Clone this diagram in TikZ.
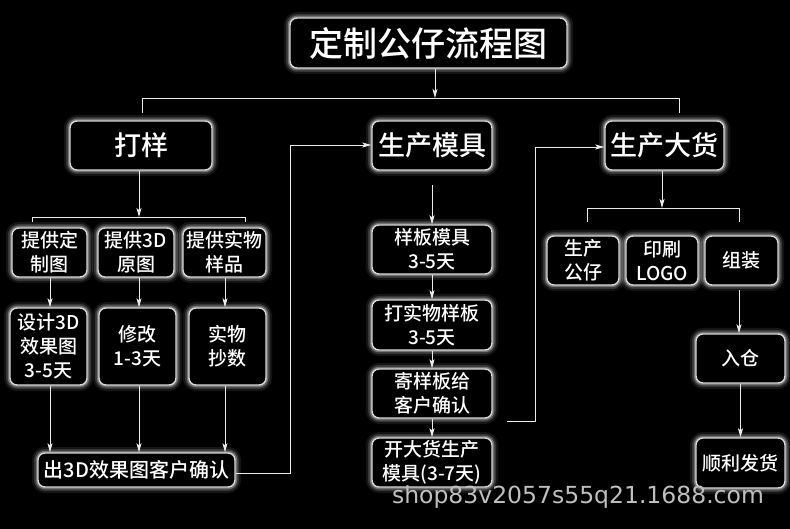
\documentclass[tikz,border=0pt]{standalone}
\usepackage{fontspec}
\setmainfont{Noto Sans CJK SC}[UprightFont={* Medium}]
\newfontfamily\wmfont{DejaVu Sans}
\usetikzlibrary{arrows.meta}
\tikzset{
  glowbox/.style={rounded corners=7pt, fill=black, draw=white!85!black, line width=1.4pt,
    text=white, align=center, inner sep=0pt,
    preaction={draw=white, draw opacity=0.08, line width=12pt},
    preaction={draw=white, draw opacity=0.15, line width=8pt},
    preaction={draw=white, draw opacity=0.3, line width=4.5pt}},
  smallbox/.style={glowbox, font=\fontsize{19}{24}\selectfont},
  headbox/.style={glowbox, font=\fontsize{27}{30}\selectfont},
  link/.style={draw=white!92!black, line width=0.9pt},
  arr/.style={link, -{Stealth[length=9pt,width=5pt,inset=2pt]}},
}
\begin{document}
\begin{tikzpicture}[x=1pt,y=-1pt]
\fill[black] (0,0) rectangle (790,529);
\useasboundingbox (0,0) rectangle (790,529);

% headers
\node[glowbox, font=\fontsize{34}{36}\selectfont, minimum width=277, minimum height=50] (title) at (428.5,43) {定制公仔流程图};
\node[headbox, minimum width=142, minimum height=49] (dayang) at (141,145.5) {打样};
\node[headbox, minimum width=120, minimum height=49] (mold) at (432,145.5) {生产模具};
\node[headbox, minimum width=119, minimum height=49] (bulk) at (664.5,145.5) {生产大货};

% left column
\node[smallbox, minimum width=75, minimum height=49] (a1) at (49.5,252.5) {提供定\\制图};
\node[smallbox, minimum width=76, minimum height=49] (a2) at (136,252.5) {提供3D\\原图};
\node[smallbox, minimum width=83, minimum height=49] (a3) at (224.5,252.5) {提供实物\\样品};
\node[smallbox, minimum width=77, minimum height=77] (b1) at (48.5,346.5) {设计3D\\效果图\\3-5天};
\node[smallbox, minimum width=77, minimum height=77] (b2) at (137.5,346.5) {修改\\1-3天};
\node[smallbox, minimum width=77, minimum height=77] (b3) at (227.5,346.5) {实物\\抄数};
\node[smallbox, font=\fontsize{20}{24}\selectfont, minimum width=197, minimum height=34] (c) at (136.5,470) {出3D效果图客户确认};

% middle column
\node[smallbox, minimum width=120, minimum height=49] (m1) at (432,249.5) {样板模具\\3-5天};
\node[smallbox, minimum width=120, minimum height=50] (m2) at (432,325) {打实物样板\\3-5天};
\node[smallbox, minimum width=120, minimum height=49] (m3) at (432,393.5) {寄样板给\\客户确认};
\node[smallbox, minimum width=120, minimum height=49] (m4) at (432,462.5) {开大货生产\\模具(3-7天)};

% right column
\node[smallbox, minimum width=72, minimum height=49] (p1) at (583,260.5) {生产\\公仔};
\node[smallbox, minimum width=72, minimum height=49] (p2) at (662,260.5) {印刷\\LOGO};
\node[smallbox, minimum width=73, minimum height=49] (p3) at (741.5,260.5) {组装};
\node[smallbox, minimum width=89, minimum height=49] (r1) at (740.5,358.5) {入仓};
\node[smallbox, minimum width=89, minimum height=50] (r2) at (740.5,463) {顺利发货};

% watermark
\node[font=\wmfont\fontsize{23.5}{26}\selectfont, text=white!75!black, inner sep=0pt] (wm) at (578,497) {shop83v2057s55q21.1688.com};

% coordinates
\coordinate (t1) at (435,98);
\coordinate (tl) at (142,113);
\coordinate (tr) at (679,113);
\coordinate (d1) at (139,217);
\coordinate (dl) at (32,222);
\coordinate (dr) at (245,222);
\coordinate (cbend) at (290,473);
\coordinate (mtop) at (290,145);
\coordinate (mstart) at (432,185);
\coordinate (m3out) at (507,421);
\coordinate (bbend) at (535,421);
\coordinate (btop) at (535,147);
\coordinate (g1) at (662,208);
\coordinate (gl) at (587,222);
\coordinate (gr) at (739,222);
\coordinate (p3out) at (739,290);

% top connectors
\draw[arr] (title.south -| t1) -- (t1);
\draw[link] (tl) -- (tl |- t1) -- (tr |- t1) -- (tr);

% 打样 branch
\draw[arr] (dayang.south -| d1) -- (d1);
\draw[link] (dl) -- (dl |- d1) -- (dr |- d1) -- (dr);
\draw[arr] (a1.south -| 50,0) -- (b1.north -| 50,0);
\draw[arr] (a2.south -| 139,0) -- (b2.north -| 139,0);
\draw[arr] (a3.south -| 225,0) -- (b3.north -| 225,0);
\draw[arr] (b1.south -| 50,0) -- (c.north -| 50,0);
\draw[arr] (b2.south -| 139,0) -- (c.north -| 139,0);
\draw[arr] (b3.south -| 225,0) -- (c.north -| 225,0);
\draw[arr] (c.east |- cbend) -- (cbend) -- (mtop) -- (mold.west |- mtop);

% 生产模具 branch
\draw[arr] (mstart) -- (m1.north);
\draw[arr] (m1.south) -- (m2.north);
\draw[arr] (m2.south) -- (m3.north);
\draw[arr] (m3.south) -- (m4.north);
\draw[arr] (m3out) -- (bbend) -- (btop) -- (bulk.west |- btop);

% 生产大货 branch
\draw[arr] (bulk.south -| g1) -- (g1);
\draw[link] (gl) -- (gl |- g1) -- (gr |- g1) -- (gr);
\draw[arr] (p3out) -- (r1.north -| p3out);
\draw[arr] (r1.south) -- (r2.north);
\end{tikzpicture}
\end{document}
